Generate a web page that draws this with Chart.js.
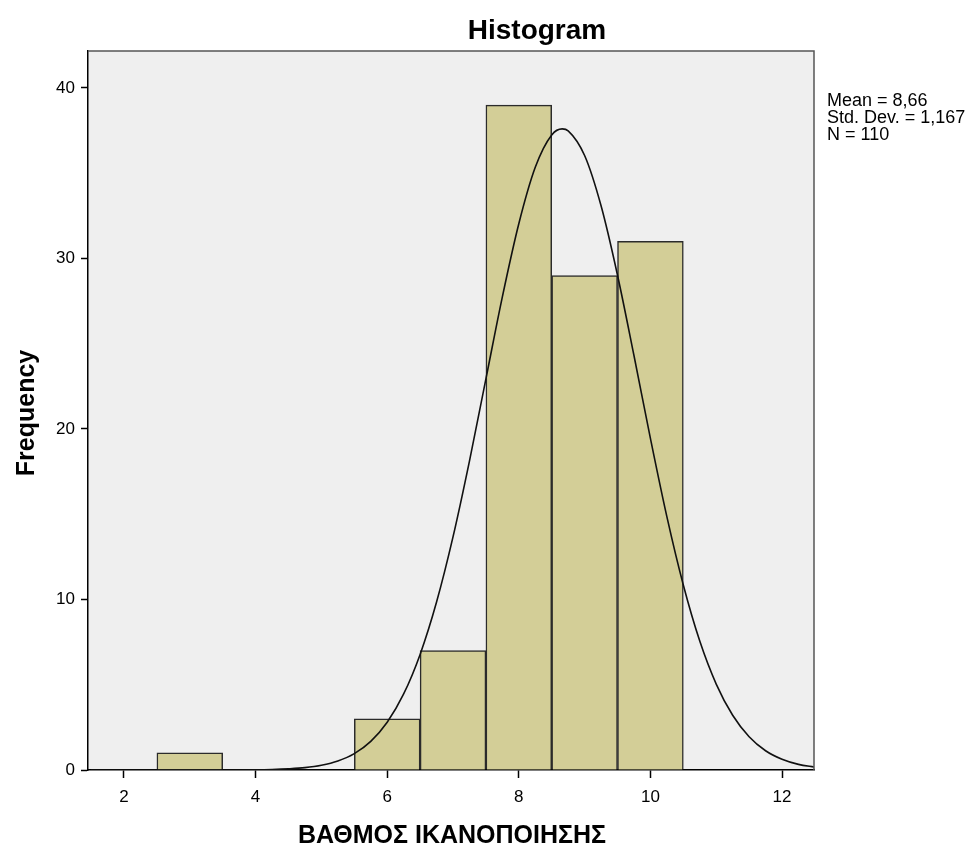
<!DOCTYPE html>
<html>
<head>
<meta charset="utf-8">
<script src="https://cdn.jsdelivr.net/npm/chart.js@4"></script>
<style>
  html, body { margin: 0; padding: 0; background: #fff; }
  #wrap { width: 975px; height: 849px; }
</style>
</head>
<body>
<div id="wrap"><canvas id="histChart"></canvas></div>
<script>
// bins (centres) and their counts
const binCentres = [3, 6, 7, 8, 9, 10];
const binCounts = [1, 3, 7, 39, 29, 31];

// normal curve
const curveX = [1.5, 2, 2.5, 3, 3.5, 4, 4.25, 4.5, 4.75, 5, 5.25, 5.5, 5.75, 6, 6.25, 6.5, 6.75, 7, 7.25, 7.5, 7.75, 8, 8.25, 8.5, 8.66, 8.75, 9, 9.25, 9.5, 9.75, 10, 10.25, 10.5, 10.75, 11, 11.25, 11.5, 11.75, 12, 12.25, 12.5];
const curveY = [0, 0, 0, 0, 0, 0.01, 0.03, 0.07, 0.14, 0.28, 0.53, 0.96, 1.68, 2.8, 4.46, 6.78, 9.85, 13.67, 18.12, 22.94, 27.75, 32.04, 35.35, 37.25, 37.6, 37.49, 36.04, 33.09, 29.02, 24.31, 19.45, 14.86, 10.85, 7.56, 5.04, 3.21, 1.95, 1.13, 0.63, 0.33, 0.17];

const xTicks = [2, 4, 6, 8, 10, 12];
const yTicks = [0, 10, 20, 30, 40];

const statLines = ['Mean = 8,66', 'Std. Dev. = 1,167', 'N = 110'];

const FONT = '"Liberation Sans", Arial, sans-serif';

// grey plot background + frame, titles, stats box
const decor = {
    id: 'decor',
    beforeDraw(chart) {
        const { ctx, chartArea: a } = chart;
        ctx.save();
        ctx.fillStyle = '#efefef';
        ctx.fillRect(a.left, a.top, a.right - a.left, a.bottom - a.top);
        ctx.restore();
    },
    afterDraw(chart) {
        const { ctx, chartArea: a } = chart;
        ctx.save();
        // top and right edges of the frame
        ctx.strokeStyle = '#555';
        ctx.lineWidth = 1.5;
        ctx.beginPath();
        ctx.moveTo(a.left, a.top);
        ctx.lineTo(a.right, a.top);
        ctx.lineTo(a.right, a.bottom);
        ctx.stroke();

        ctx.fillStyle = '#000';
        ctx.textAlign = 'center';
        ctx.textBaseline = 'alphabetic';
        ctx.font = 'bold 28px ' + FONT;
        ctx.fillText('Histogram', 537, 39);

        ctx.font = 'bold 25px ' + FONT;
        ctx.fillText('ΒΑΘΜΟΣ ΙΚΑΝΟΠΟΙΗΣΗΣ', 452, 843);

        ctx.translate(34, 413);
        ctx.rotate(-Math.PI / 2);
        ctx.fillText('Frequency', 0, 0);
        ctx.setTransform(1, 0, 0, 1, 0, 0);

        ctx.textAlign = 'left';
        ctx.font = '18px ' + FONT;
        statLines.forEach((t, i) => ctx.fillText(t, 827, 106 + i * 17));
        ctx.restore();
    }
};

const ctx = document.getElementById('histChart').getContext('2d');
new Chart(ctx, {
    type: 'bar',
    data: {
        datasets: [
            {
                type: 'line',
                data: curveX.map((x, i) => ({ x: x, y: curveY[i] })),
                borderColor: '#111',
                borderWidth: 1.6,
                pointRadius: 0,
                cubicInterpolationMode: 'monotone',
                fill: false,
                order: 0
            },
            {
                type: 'bar',
                data: binCentres.map((x, i) => ({ x: x, y: binCounts[i] })),
                backgroundColor: '#d3ce97',
                borderColor: '#2b2b2b',
                borderWidth: 1.5,
                barPercentage: 1,
                categoryPercentage: 1,
                order: 1
            }
        ]
    },
    options: {
        responsive: true,
        maintainAspectRatio: false,
        animation: false,
        layout: { padding: { left: 0, top: 51, right: 161, bottom: 0 } },
        plugins: {
            legend: { display: false },
            tooltip: { enabled: false }
        },
        scales: {
            x: {
                type: 'linear',
                offset: false,
                min: 1.453,
                max: 12.486,
                afterBuildTicks: s => { s.ticks = xTicks.map(v => ({ value: v })); },
                afterFit: s => { s.height = 79; },
                grid: { offset: false, drawOnChartArea: false, tickLength: 8, tickColor: '#000', tickWidth: 1.5 },
                border: { color: '#000', width: 1.5 },
                ticks: { color: '#000', font: { family: FONT, size: 17 }, padding: 9, maxRotation: 0 }
            },
            y: {
                min: 0,
                max: 42.17,
                afterBuildTicks: s => { s.ticks = yTicks.map(v => ({ value: v })); },
                afterFit: s => { s.width = 88; },
                grid: { drawOnChartArea: false, tickLength: 7, tickColor: '#000', tickWidth: 1.5 },
                border: { color: '#000', width: 1.5 },
                ticks: { color: '#000', font: { family: FONT, size: 17 }, padding: 6 }
            }
        }
    },
    plugins: [decor]
});
</script>
</body>
</html>
